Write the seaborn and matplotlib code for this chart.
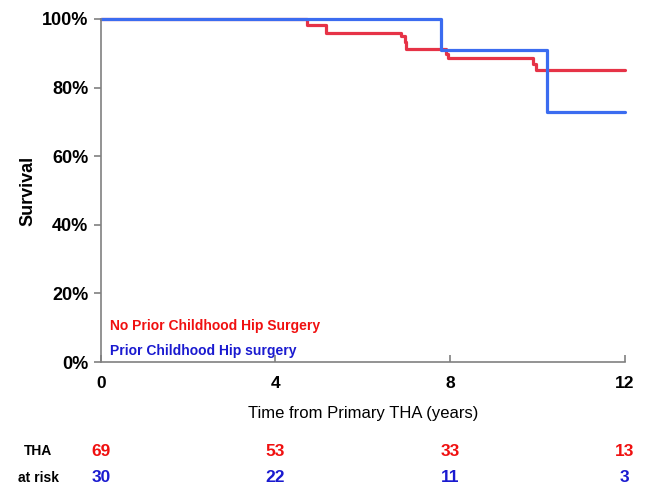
import matplotlib
matplotlib.use("Agg")
import matplotlib.pyplot as plt
import matplotlib.transforms as mtransforms
from matplotlib.ticker import FuncFormatter
import seaborn as sns
import pandas as pd

# Data
red_label = "No Prior Childhood Hip Surgery"
blue_label = "Prior Childhood Hip surgery"
red_times = [0, 4.72, 5.17, 6.88, 6.96, 7.0, 7.9, 7.95, 9.9, 9.97, 12]
red_surv = [100, 98.2, 96.0, 95.0, 93.4, 91.2, 89.7, 88.5, 86.8, 85.0, 85.0]
blue_times = [0, 7.79, 10.22, 12]
blue_surv = [100, 91.0, 72.8, 72.8]
risk_times = [0, 4, 8, 12]
risk_red = [69, 53, 33, 13]
risk_blue = [30, 22, 11, 3]
x_ticks = [0, 4, 8, 12]
y_ticks = [0, 20, 40, 60, 80, 100]

sns.set_style("white")
plt.rcParams['font.family'] = ['Liberation Sans', 'DejaVu Sans']
plt.rcParams['text.color'] = 'black'
plt.rcParams['axes.labelcolor'] = 'black'
plt.rcParams['xtick.color'] = 'black'
plt.rcParams['ytick.color'] = 'black'

RED_LINE = "#e63347"
BLUE_LINE = "#3b6cf0"
RED_TXT = "#f01010"
BLUE_TXT = "#1a1ad0"

fig = plt.figure(figsize=(6.46, 4.93), dpi=100)
ax = fig.add_axes([0.156, 0.2657, 0.811, 0.696])

df_r = pd.DataFrame({"t": red_times, "s": red_surv})
df_b = pd.DataFrame({"t": blue_times, "s": blue_surv})
sns.lineplot(data=df_r, x="t", y="s", drawstyle="steps-post", color=RED_LINE,
             lw=2.3, ax=ax, clip_on=False, estimator=None, sort=False)
sns.lineplot(data=df_b, x="t", y="s", drawstyle="steps-post", color=BLUE_LINE,
             lw=2.3, ax=ax, clip_on=False, estimator=None, sort=False)

ax.set_xlim(0, 12)
ax.set_ylim(0, 100)
ax.set_xticks(x_ticks)
ax.set_yticks(y_ticks)
ax.yaxis.set_major_formatter(FuncFormatter(lambda v, p: f"{int(v)}%"))
for s in ["top", "right"]:
    ax.spines[s].set_visible(False)
for s in ["left", "bottom"]:
    ax.spines[s].set_color("#808080")
    ax.spines[s].set_linewidth(1.2)
ax.tick_params(axis="y", direction="out", length=5, color="#808080", width=1.2,
               labelsize=13, pad=4, labelcolor="black")
ax.tick_params(axis="x", direction="in", length=5, color="#808080", width=1.2,
               labelsize=12.5, pad=10, labelcolor="black")
ax.tick_params(axis="x", bottom=True)
ax.tick_params(axis="y", left=True)
for lab in ax.get_xticklabels() + ax.get_yticklabels():
    lab.set_fontweight("bold")

ax.set_xlabel("Time from Primary THA (years)", fontsize=12, labelpad=11, color="black")
ax.set_ylabel("Survival", fontsize=13, fontweight="bold", labelpad=4, color="black")

# legend-like text
ax.text(0.2, 10.5, red_label, color=RED_TXT, fontsize=10, fontweight="bold",
        va="center", ha="left")
ax.text(0.2, 3.3, blue_label, color=BLUE_TXT, fontsize=10, fontweight="bold",
        va="center", ha="left")

# at-risk table
trans = mtransforms.blended_transform_factory(ax.transData, fig.transFigure)
y_red = 1 - 451 / 493
y_blue = 1 - 478 / 493
fig.text(38 / 646, y_red, "THA", fontsize=10, fontweight="bold", ha="center", va="center")
fig.text(38 / 646, y_blue, "at risk", fontsize=10, fontweight="bold", ha="center", va="center")
for t, r, b in zip(risk_times, risk_red, risk_blue):
    ax.text(t, y_red, str(r), transform=trans, color=RED_TXT, fontsize=12.5,
            fontweight="bold", ha="center", va="center")
    ax.text(t, y_blue, str(b), transform=trans, color=BLUE_TXT, fontsize=12.5,
            fontweight="bold", ha="center", va="center")

fig.savefig("out.png", dpi=100)
